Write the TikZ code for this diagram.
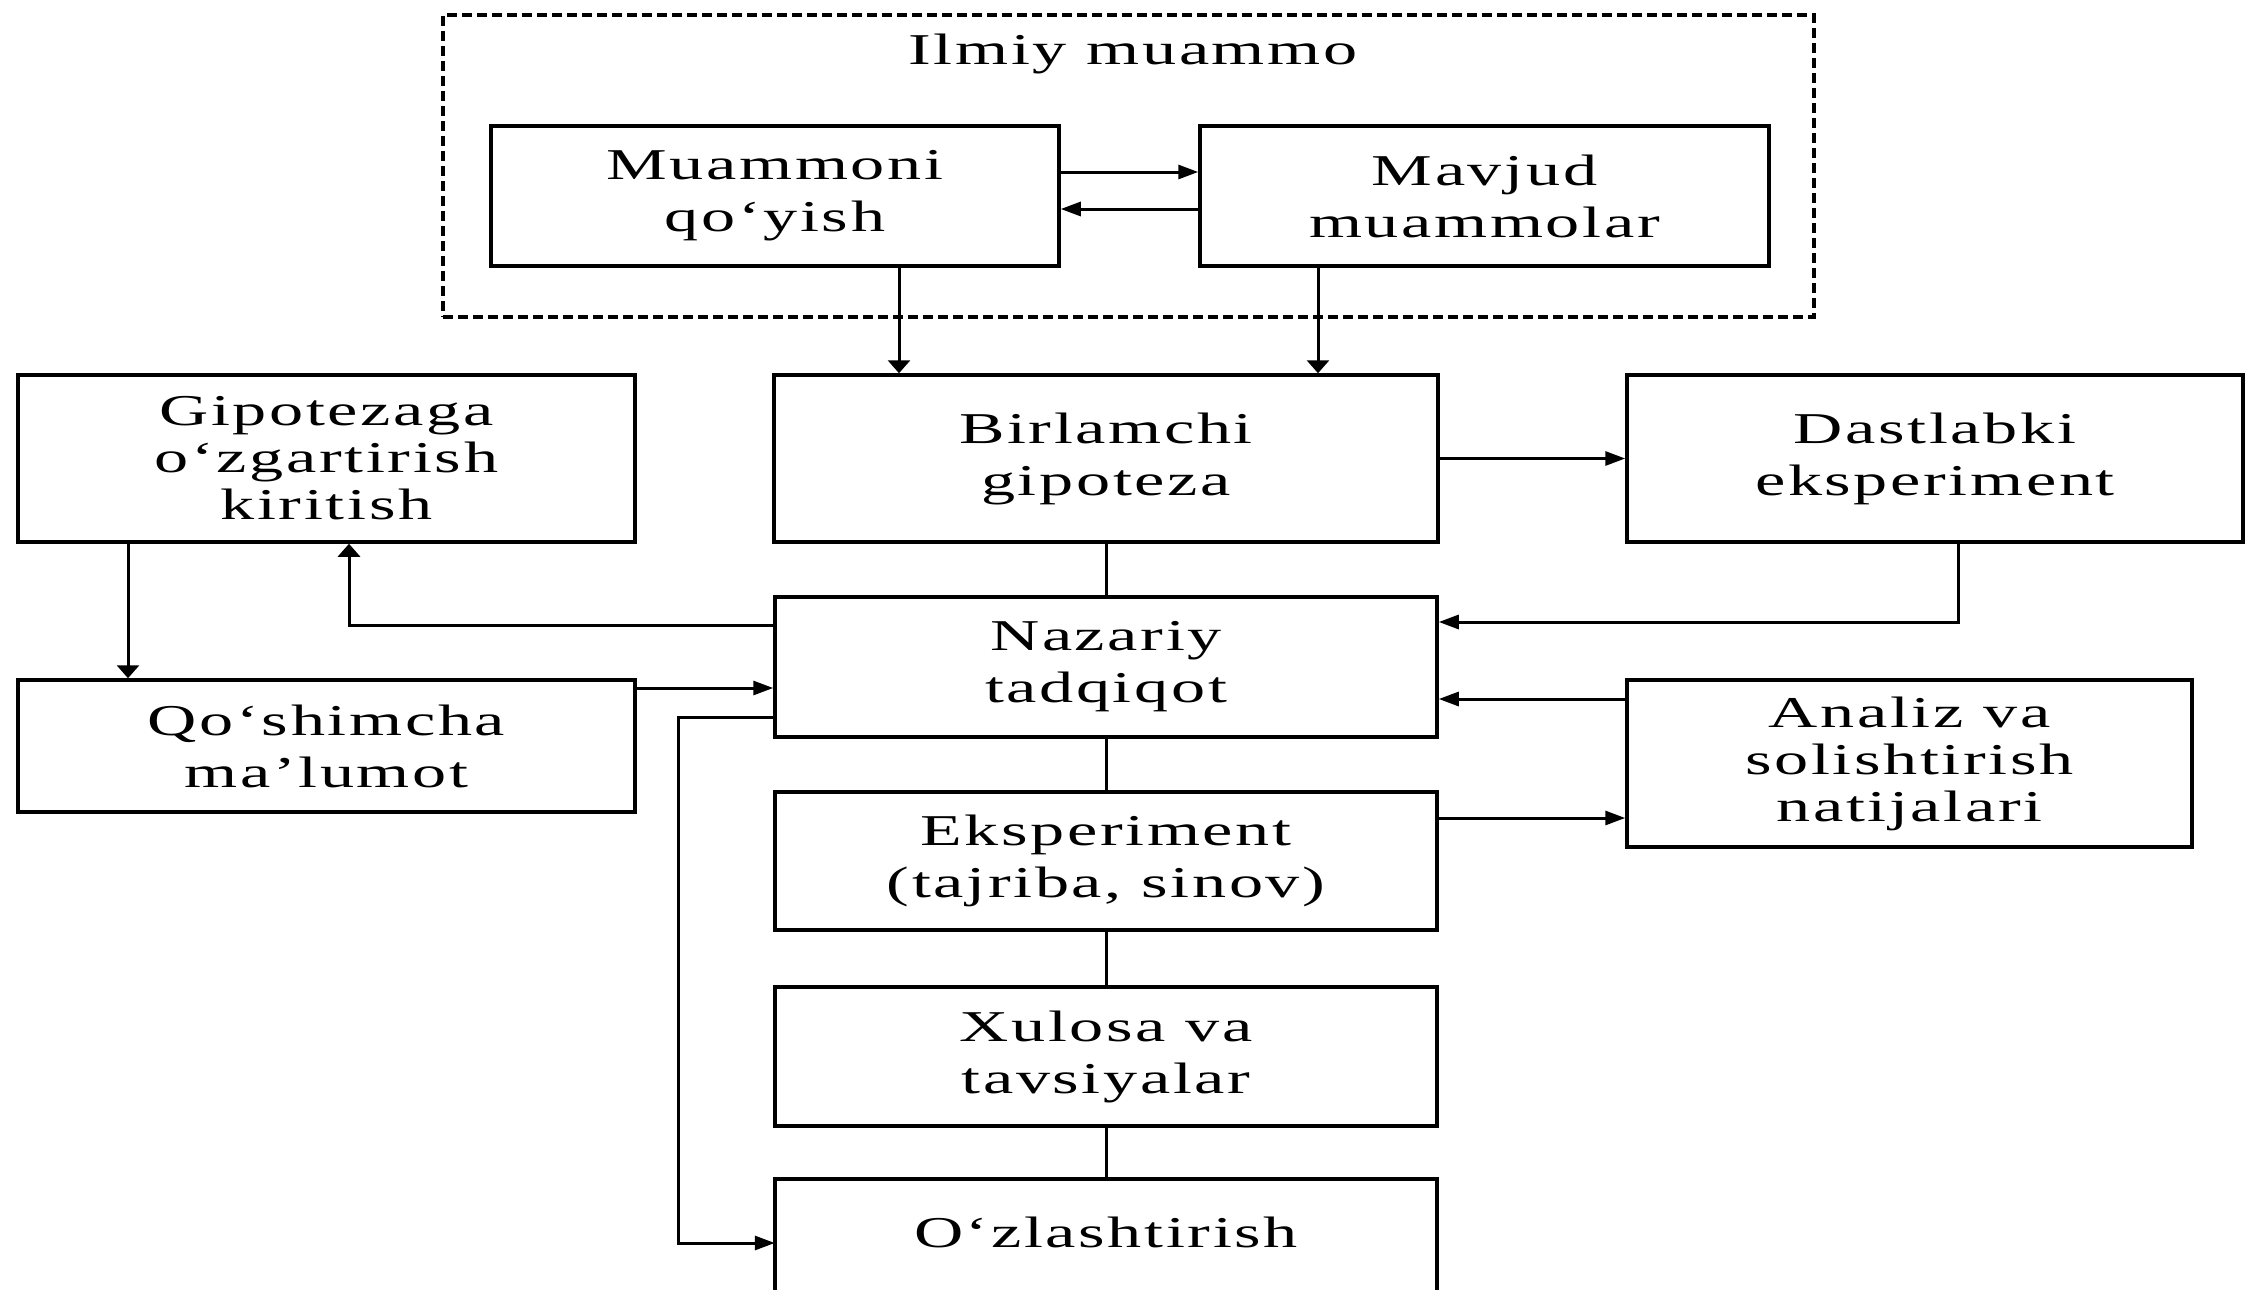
\documentclass[tikz,border=0pt]{standalone}
\usepackage{fontspec}
\setmainfont{Liberation Serif}[FakeStretch=1.55,LetterSpace=6]
\usetikzlibrary{arrows.meta}
\begin{document}
\begin{tikzpicture}[x=1pt,y=-1pt,
  txt/.style={font=\fontsize{44}{52}\selectfont,align=center},
  three/.style={font=\fontsize{44}{47}\selectfont},
  box/.style={txt,draw=black,line width=3.5pt,rectangle,inner sep=0pt},
  boxline/.style={draw=black,line width=3.5pt},
  conn/.style={line width=3pt,draw=black},
  harr/.style={conn,-{Triangle[length=20pt,width=14pt]}},
  varr/.style={conn,-{Triangle[length=13pt,width=22pt]}},
]
\clip (0,0) rectangle (2247,1290);
\fill[white] (0,0) rectangle (2247,1290);

% dashed frame
\node[draw=black,line width=3.5pt,dash pattern=on 10pt off 5pt,minimum width=1371pt,minimum height=302pt,inner sep=0pt] (frame) at (1128.5,166) {};
\node[txt,anchor=base] (ilmiy) at (1133,65) {Ilmiy muammo};

\node[box,minimum width=568pt,minimum height=140pt] (muam) at (775,196) {Muammoni\\qo‘yish};
\node[box,minimum width=569pt,minimum height=140pt] (mavj) at (1484.5,196) {Mavjud\\muammolar};

\node[box,minimum width=664pt,minimum height=167pt] (birl) at (1106,458.5) {Birlamchi\\gipoteza};
\node[box,three,minimum width=617pt,minimum height=167pt] (gipo) at (326.5,458.5) {Gipotezaga\\o‘zgartirish\\kiritish};
\node[box,minimum width=616pt,minimum height=167pt] (dast) at (1935,458.5) {Dastlabki\\eksperiment};

\node[box,minimum width=662pt,minimum height=140pt] (naz) at (1106,667) {Nazariy\\tadqiqot};
\node[box,minimum width=617pt,minimum height=132pt] (qosh) at (326.5,746) {Qo‘shimcha\\ma’lumot};
\node[box,three,minimum width=565pt,minimum height=167pt] (anal) at (1909.5,763.5) {Analiz va\\solishtirish\\natijalari};

\node[box,minimum width=662pt,minimum height=138pt] (eks) at (1106,861) {Eksperiment\\(tajriba, sinov)};
\node[box,minimum width=662pt,minimum height=139pt] (xul) at (1106,1056.5) {Xulosa va\\tavsiyalar};
\node[txt,inner sep=0pt,minimum width=662pt,minimum height=106pt] (ozl) at (1106,1232) {O‘zlashtirish};
\draw[boxline] ([yshift=-200pt]ozl.north west) -- (ozl.north west) -- (ozl.north east) -- ([yshift=-200pt]ozl.north east);

% connectors
\draw[harr] ([yshift=24pt]muam.east) -- ([yshift=24pt]mavj.west);
\draw[harr] ([yshift=-13pt]mavj.west) -- ([yshift=-13pt]muam.east);
\coordinate (m1) at ([xshift=124pt]muam.south);
\coordinate (m2) at ([xshift=-166.5pt]mavj.south);
\draw[varr] (m1) -- (m1 |- birl.north);
\draw[varr] (m2) -- (m2 |- birl.north);

\draw[harr] (birl.east) -- (dast.west);
\draw[conn] (birl.south) -- (naz.north);

\coordinate (d1) at ([xshift=23pt]dast.south);
\coordinate (n1) at ([yshift=45pt]naz.east);
\draw[harr] (d1) |- (n1);

\coordinate (n2) at ([yshift=42pt]naz.west);
\coordinate (g1) at ([xshift=22.5pt]gipo.south);
\draw[varr] (n2) -| (g1);

\coordinate (g2) at ([xshift=-198.5pt]gipo.south);
\draw[varr] (g2) -- (g2 |- qosh.north);

\coordinate (q1) at ([yshift=58pt]qosh.east);
\draw[harr] (q1) -- (q1 -| naz.west);

\coordinate (n3) at ([yshift=-50pt]naz.west);
\coordinate (o1) at ([yshift=-11pt]ozl.west);
\coordinate (bend) at ([xshift=-95pt]n3);
\draw[harr] (n3) -- (bend) |- (o1);

\coordinate (a1) at ([yshift=64.5pt]anal.west);
\draw[harr] (a1) -- (a1 -| naz.east);

\coordinate (e1) at ([yshift=43pt]eks.east);
\draw[harr] (e1) -- (e1 -| anal.west);

\draw[conn] (naz.south) -- (eks.north);
\draw[conn] (eks.south) -- (xul.north);
\draw[conn] (xul.south) -- (ozl.north);
\end{tikzpicture}
\end{document}
